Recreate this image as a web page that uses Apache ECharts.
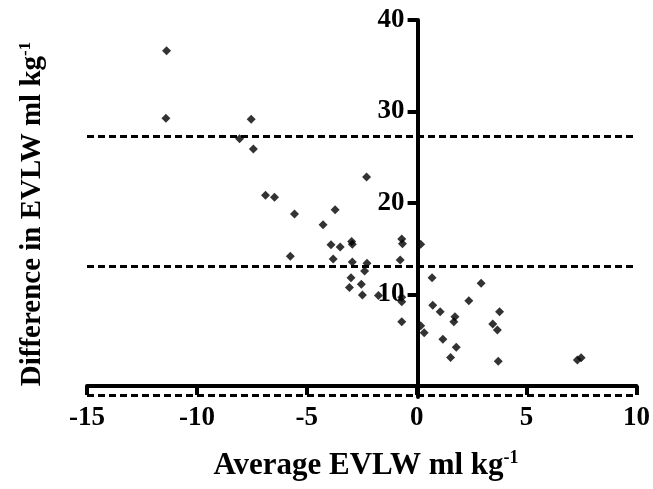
<!DOCTYPE html>
<html>
<head>
<meta charset="utf-8">
<script src="https://cdn.jsdelivr.net/npm/echarts@6/dist/echarts.min.js"></script>
<style>
  html, body { margin: 0; padding: 0; background: #fff; }
  #chart { width: 653px; height: 489px; }
</style>
</head>
<body>
<div id="chart"></div>
<script>
  // average EVLW (x) vs difference (y)
  var avgEvlw = [
    -11.38, -11.41, -7.53, -8.06, -7.43, -2.28, -6.88, -6.47, -5.56, -3.71,
    -4.26, -3.90, -3.48, -2.96, -2.93, -5.75, -3.80, -2.93, -2.26, -2.37,
    -2.99, -2.52, -3.06, -2.47, -0.68, -0.65, -0.75, -1.74, -0.68, -0.68,
    -0.68, 0.18, 0.70, 2.93, 2.37, 0.73, 1.07, 1.74, 1.69, 3.77,
    3.46, 3.67, 0.18, 0.34, 1.19, 1.80, 1.54, 3.71, 7.31, 7.48
  ]
  var diffEvlw = [
    36.65, 29.25, 29.14, 27.03, 25.90, 22.84, 20.84, 20.62, 18.80, 19.27,
    17.63, 15.45, 15.19, 15.80, 15.50, 14.17, 13.88, 13.55, 13.41, 12.57,
    11.84, 11.11, 10.78, 9.95, 16.07, 15.56, 13.77, 9.90, 9.70, 9.20,
    7.03, 15.48, 11.84, 11.22, 9.33, 8.82, 8.12, 7.58, 7.03, 8.12,
    6.78, 6.12, 6.59, 5.83, 5.10, 4.23, 3.13, 2.70, 2.84, 3.10
  ]
  // mean difference and limits of agreement
  var limitLines = [27.3, 13.1, -1.0]
  var xTicks = [-15, -10, -5, 0, 5, 10]
  var yTicks = [10, 20, 30, 40]

  var points = avgEvlw.map(function (x, i) { return [x, diffEvlw[i]] })

  var font = 'Liberation Serif'
  var gridLeft = 87, gridRight = 15, gridTop = 20, gridBottom = 92
  var yMin = -1.2, yMax = 40
  // pixel shift so both axes cross at (0, 0) with labels following them
  var xZeroShift = (0 - xTicks[0]) / (xTicks[5] - xTicks[0]) * (653 - gridLeft - gridRight)
  var yZeroShift = (0 - yMin) / (yMax - yMin) * (489 - gridTop - gridBottom)

  var chart = echarts.init(document.getElementById('chart'))

  chart.setOption({
    animation: false,
    backgroundColor: '#fff',
    grid: {
      left: gridLeft,
      right: gridRight,
      top: gridTop,
      bottom: gridBottom
    },
    xAxis: {
      type: 'value',
      min: xTicks[0],
      max: xTicks[5],
      interval: 5,
      offset: -yZeroShift,
      splitLine: { show: false },
      axisLine: {
        onZero: false,
        lineStyle: { color: '#000', width: 4 }
      },
      axisTick: {
        length: 9,
        lineStyle: { color: '#000', width: 4 }
      },
      axisLabel: {
        margin: 19,
        color: '#000',
        fontFamily: font,
        fontWeight: 'bold',
        fontSize: 27
      }
    },
    yAxis: {
      type: 'value',
      min: yMin,
      max: yMax,
      offset: -xZeroShift,
      splitLine: { show: false },
      axisLine: {
        onZero: false,
        lineStyle: { color: '#000', width: 4 }
      },
      axisTick: {
        length: 10,
        customValues: yTicks,
        lineStyle: { color: '#000', width: 4 }
      },
      axisLabel: {
        margin: 13,
        customValues: yTicks,
        color: '#000',
        fontFamily: font,
        fontWeight: 'bold',
        fontSize: 27
      }
    },
    graphic: [{
      type: 'text',
      x: 366,
      y: 466,
      style: {
        align: 'center',
        verticalAlign: 'middle',
        rich: {
          t: { fontFamily: font, fontWeight: 'bold', fontSize: 31, fill: '#000' },
          s: { fontFamily: font, fontWeight: 'bold', fontSize: 18, fill: '#000', padding: [0, 0, 16, 0] }
        },
        text: '{t|Average EVLW ml kg}{s|-1}'
      }
    }, {
      type: 'text',
      x: 33,
      y: 214,
      rotation: Math.PI / 2,
      style: {
        align: 'center',
        verticalAlign: 'middle',
        rich: {
          t: { fontFamily: font, fontWeight: 'bold', fontSize: 29, fill: '#000' },
          s: { fontFamily: font, fontWeight: 'bold', fontSize: 17, fill: '#000', padding: [0, 0, 15, 0] }
        },
        text: '{t|Difference in EVLW ml kg}{s|-1}'
      }
    }],
    series: [{
      type: 'scatter',
      symbol: 'diamond',
      symbolSize: 9,
      itemStyle: { color: '#000' },
      data: points,
      markLine: {
        silent: true,
        symbol: 'none',
        label: { show: false },
        lineStyle: { color: '#000', width: 3, type: [7, 4] },
        data: limitLines.map(function (v) { return { yAxis: v } })
      }
    }]
  })
</script>
</body>
</html>
